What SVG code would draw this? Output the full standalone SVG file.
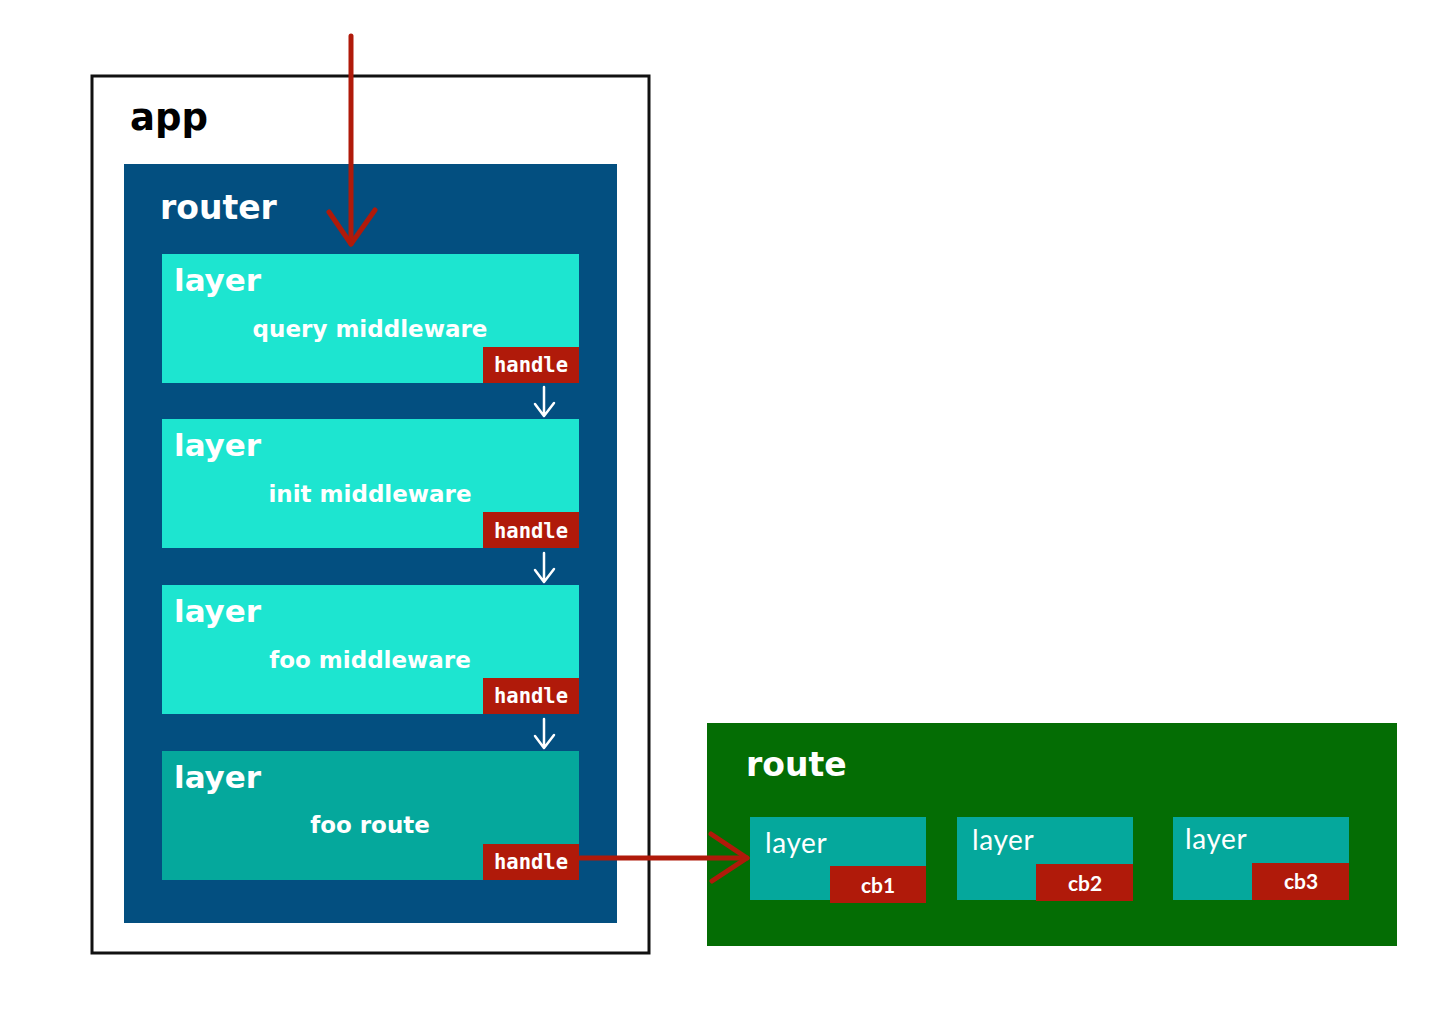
<svg xmlns="http://www.w3.org/2000/svg" width="1448" height="1016" viewBox="0 0 1448 1016">
<style>
.t{font-family:"DejaVu Sans",Lato,sans-serif;font-weight:bold;fill:#fff}
.h{font-family:"DejaVu Sans Mono","Liberation Mono",monospace;font-weight:bold;font-size:20.5px;fill:#fff;text-anchor:middle}
.sub{font-family:"DejaVu Sans",Lato,sans-serif;font-weight:bold;font-size:23px;fill:#fff;text-anchor:middle}
.lt{font-family:Lato,"Liberation Sans",sans-serif;font-weight:400;font-size:28px;fill:#fff;letter-spacing:0.6px}
.cb{font-family:Lato,"Liberation Sans",sans-serif;font-weight:700;font-size:21px;fill:#fff;text-anchor:middle}
.red{fill:#b01a0a}
.ly{fill:#1de5d0}
.ly2{fill:#05a89c}
.rl{fill:#05a89c}
.wa{stroke:#fff;stroke-width:2.5;fill:none;stroke-linecap:round;stroke-linejoin:round}
.ra{stroke:#b01a0a;stroke-width:5;fill:none;stroke-linecap:round;stroke-linejoin:round}
</style>
<rect width="1448" height="1016" fill="#fff"/>
<g id="app">
<rect x="92" y="76" width="557" height="877" fill="#fff" stroke="#111" stroke-width="3"/>
<text x="130" y="130" class="t" style="fill:#000;font-size:37px">app</text>
</g>
<g id="router">
<rect x="124" y="164" width="493" height="759" fill="#034f80"/>
<text x="160" y="219" class="t" style="font-size:33px">router</text>
</g>
<g id="layer1">
<rect x="162" y="254" width="417" height="129" class="ly"/>
<text x="174" y="291" class="t" style="font-size:31px">layer</text>
<text x="370" y="337" class="sub">query middleware</text>
<rect x="483" y="347" width="96" height="36" class="red"/>
<text x="531" y="372" class="h">handle</text>
</g>
<g id="layer2">
<rect x="162" y="419" width="417" height="129" class="ly"/>
<text x="174" y="456" class="t" style="font-size:31px">layer</text>
<text x="370" y="502" class="sub">init middleware</text>
<rect x="483" y="512" width="96" height="36" class="red"/>
<text x="531" y="538" class="h">handle</text>
</g>
<g id="layer3">
<rect x="162" y="585" width="417" height="129" class="ly"/>
<text x="174" y="622" class="t" style="font-size:31px">layer</text>
<text x="370" y="668" class="sub">foo middleware</text>
<rect x="483" y="678" width="96" height="36" class="red"/>
<text x="531" y="703" class="h">handle</text>
</g>
<g id="layer4">
<rect x="162" y="751" width="417" height="129" class="ly2"/>
<text x="174" y="788" class="t" style="font-size:31px">layer</text>
<text x="370" y="833" class="sub">foo route</text>
<rect x="483" y="844" width="96" height="36" class="red"/>
<text x="531" y="869" class="h">handle</text>
</g>
<g id="route">
<rect x="707" y="723" width="690" height="223" fill="#046d04"/>
<text x="746" y="776" class="t" style="font-size:33px">route</text>
</g>
<g id="rlayer1">
<rect x="750" y="817" width="176" height="83" class="rl"/>
<text x="765" y="853" class="lt">layer</text>
<rect x="830" y="866" width="96" height="37" class="red"/>
<text x="878" y="893" class="cb">cb1</text>
</g>
<g id="rlayer2">
<rect x="957" y="817" width="176" height="83" class="rl"/>
<text x="972" y="850" class="lt">layer</text>
<rect x="1036" y="864" width="97" height="37" class="red"/>
<text x="1085" y="891" class="cb">cb2</text>
</g>
<g id="rlayer3">
<rect x="1173" y="817" width="176" height="83" class="rl"/>
<text x="1185" y="849" class="lt">layer</text>
<rect x="1252" y="863" width="97" height="37" class="red"/>
<text x="1301" y="889" class="cb">cb3</text>
</g>
<g id="connectors">
<path class="ra" d="M351 36 L351 244"/>
<path class="ra" d="M329 212 L351 244 L375 210"/>
<path class="wa" d="M544 387 L544 415 M535 404 L544 416 L554 403"/>
<path class="wa" d="M544 553 L544 581 M535 570 L544 582 L554 569"/>
<path class="wa" d="M544 719 L544 747 M535 736 L544 748 L554 735"/>
<path class="ra" d="M580 858 L747 858"/>
<path class="ra" d="M711 834 L747 858 L712 881"/>
</g>
</svg>
